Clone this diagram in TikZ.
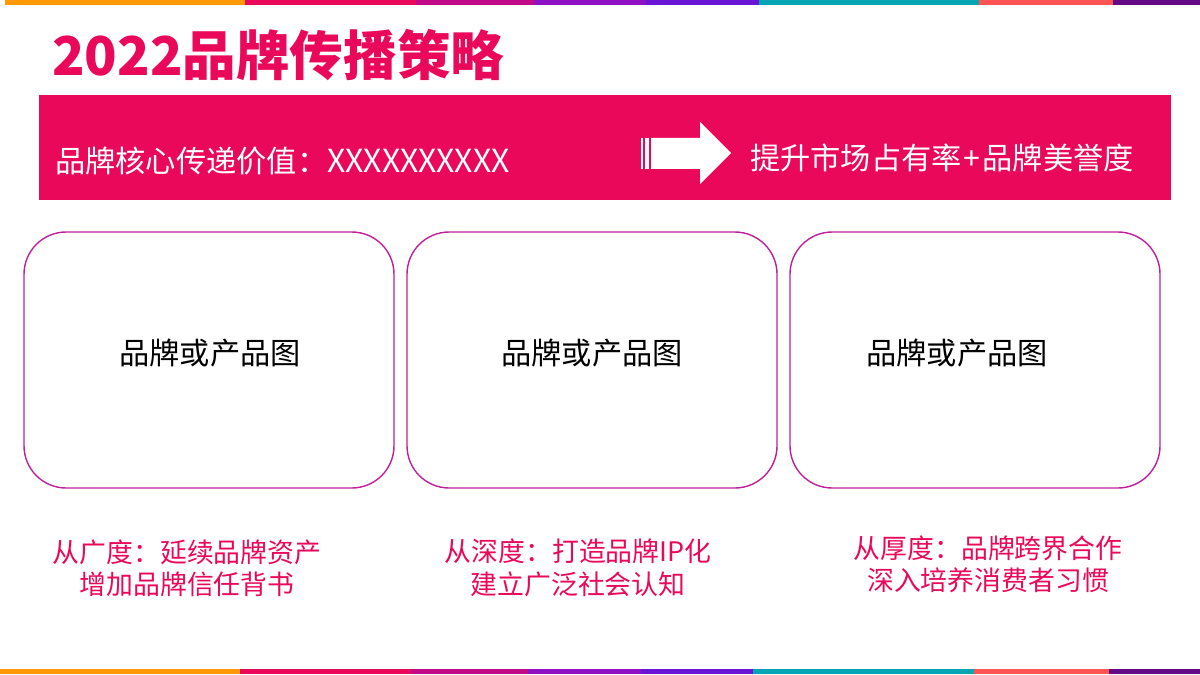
\documentclass[tikz,border=0pt]{standalone}
\usepackage{fontspec}
\setmainfont{Noto Sans CJK SC}
\definecolor{brandpink}{HTML}{E9085A}
\definecolor{boxline}{HTML}{C0209A}
\definecolor{barorange}{HTML}{FF9A06}
\definecolor{barmagenta}{HTML}{C00A88}
\definecolor{barpurple}{HTML}{8E12C4}
\definecolor{barviolet}{HTML}{6A14D6}
\definecolor{barteal}{HTML}{06A5B4}
\definecolor{barcoral}{HTML}{FF5454}
\definecolor{bardark}{HTML}{650A85}
\tikzset{
	picbox/.style={draw=boxline,line width=1pt,rounded corners=30pt,fill=white},
	picword/.style={font=\fontsize{21.5}{25}\selectfont,text=black,inner sep=0pt},
	bannerword/.style={font=\fontsize{21.5}{25}\selectfont,text=white,inner sep=0pt},
	captionword/.style={font=\fontsize{19.1}{23}\selectfont,text=brandpink,align=center,inner sep=0pt}
}
\begin{document}
\begin{tikzpicture}[x=0.025cm,y=-0.025cm]
	\useasboundingbox (0,0) rectangle (1200,675);

	\fill[barorange] (5,0) rectangle (245,5.5);
	\fill[brandpink] (245,0) rectangle (416,5.5);
	\fill[barmagenta] (416,0) rectangle (534,5.5);
	\fill[barpurple] (534,0) rectangle (646,5.5);
	\fill[barviolet] (646,0) rectangle (759,5.5);
	\fill[barteal] (759,0) rectangle (979,5.5);
	\fill[barcoral] (979,0) rectangle (1113,5.5);
	\fill[bardark] (1113,0) rectangle (1200,5.5);

	\fill[barorange] (0,668.5) rectangle (240,674);
	\fill[brandpink] (240,668.5) rectangle (411,674);
	\fill[barmagenta] (411,668.5) rectangle (528,674);
	\fill[barpurple] (528,668.5) rectangle (641,674);
	\fill[barviolet] (641,668.5) rectangle (753,674);
	\fill[barteal] (753,668.5) rectangle (974,674);
	\fill[barcoral] (974,668.5) rectangle (1109,674);
	\fill[bardark] (1109,668.5) rectangle (1200,674);

	\node[anchor=west,inner sep=0pt,text=brandpink,font=\fontsize{38.1}{44}\selectfont\bfseries] (title) at (52,55) {2022品牌传播策略};

	\fill[brandpink] (39,95) rectangle (1171,200);
	\node[bannerword,anchor=west] (corevalue) at (55,161) {品牌核心传递价值：{\fontsize{22.6}{25}\selectfont XXXXXXXXXX}};
	\fill[white] (641,138) rectangle (643,169);
	\fill[white] (645,138) rectangle (649,169);
	\fill[white] (651,138) -- (700,138) -- (700,122) -- (731,153) -- (700,184) -- (700,169) -- (651,169) -- cycle;
	\node[bannerword,anchor=west] (goal) at (750,158) {提升市场占有率\kern1.4pt+\kern1.4pt品牌美誉度};

	\draw[picbox] (24,232) rectangle (394,488);
	\draw[picbox] (407,232) rectangle (777,488);
	\draw[picbox] (790,232) rectangle (1160,488);

	\node[picword] (picone) at (210,353) {品牌或产品图};
	\node[picword] (pictwo) at (592,353) {品牌或产品图};
	\node[picword] (picthree) at (957,353) {品牌或产品图};

	\node[captionword] (breadth) at (187,568) {从广度：延续品牌资产\\增加品牌信任背书};
	\node[captionword] (depth) at (578,568) {从深度：打造品牌IP化\\建立广泛社会认知};
	\node[captionword] (thickness) at (988,564) {从厚度：品牌跨界合作\\深入培养消费者习惯};
\end{tikzpicture}
\end{document}
